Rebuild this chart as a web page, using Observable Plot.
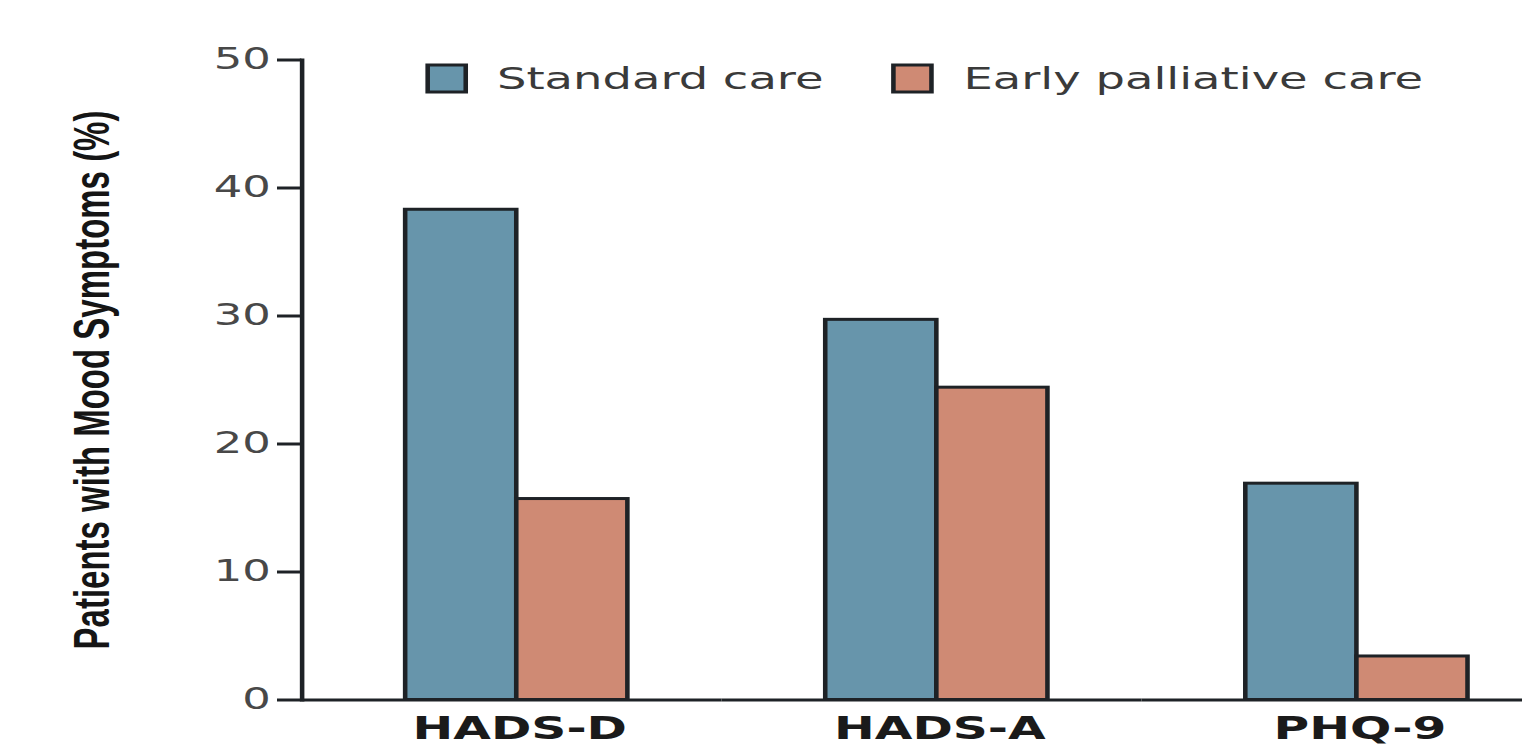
<!DOCTYPE html>
<html>
<head>
<meta charset="utf-8">
<script src="https://cdn.jsdelivr.net/npm/d3@7"></script>
<script src="https://cdn.jsdelivr.net/npm/@observablehq/plot@0.6"></script>
<style>
  html, body { margin: 0; padding: 0; background: #ffffff; overflow: hidden; }
  #wrap { position: relative; width: 1000px; height: 748px; transform: scaleX(1.522); transform-origin: 0 0; }
  #legend { position: absolute; left: 280.5px; top: 61px; }
  #legend > div { margin: 0 !important; min-height: 0 !important; }
  #legend span { display: inline-flex !important; align-items: center !important; margin-right: 46px !important;
                 font-family: "DejaVu Sans", sans-serif !important; font-size: 30.5px !important; color: #3a3a3a !important; line-height: normal; }
  #legend svg { margin-right: 21px !important; overflow: visible !important; }
  #legend rect { stroke: #1e2226; stroke-width: 3px; }
</style>
</head>
<body>
<div id="wrap">
  <div id="chart"></div>
  <div id="legend"></div>
</div>
<script>
const categories = ["HADS-D", "HADS-A", "PHQ-9"];
const seriesNames = ["Standard care", "Early palliative care"];
const standardCare = [38.3, 29.7, 16.9];
const earlyPalliative = [15.7, 24.4, 3.4];
const yTicks = [0, 10, 20, 30, 40, 50];
const seriesColors = ["#6795ab", "#cf8a74"];
const yLabel = "Patients with Mood Symptoms (%)";

const STROKE = "#1e2226";

const rows = categories.flatMap((c, i) => [
  {category: c, series: seriesNames[0], value: standardCare[i]},
  {category: c, series: seriesNames[1], value: earlyPalliative[i]}
]);

const chart = Plot.plot({
  width: 1000,
  height: 748,
  marginTop: 59.5,
  marginBottom: 48.5,
  marginLeft: 197.8,
  marginRight: 0,
  style: {fontFamily: "DejaVu Sans", background: "white"},
  fx: {domain: categories, range: [197.8, 1025.8], paddingInner: 0, paddingOuter: 0, label: null},
  x: {domain: seriesNames, paddingInner: 0, paddingOuter: 0.883, align: 0.528, axis: null},
  y: {domain: [0, 50]},
  color: {domain: seriesNames, range: seriesColors},
  marks: [
    Plot.barY(rows, {fx: "category", x: "series", y: "value", fill: "series", stroke: STROKE, strokeWidth: 3}),
    Plot.ruleY([0], {stroke: STROKE, strokeWidth: 3}),
    Plot.frame({anchor: "left", facetAnchor: "left", stroke: STROKE, strokeWidth: 3}),
    Plot.axisY({ticks: yTicks, tickSize: 16, tickPadding: 4.5, fontSize: 29.5, stroke: STROKE, strokeWidth: 3,
                fill: "#484848", label: null, tickFormat: d => String(d)}),
    Plot.axisY({ticks: [], tickSize: 0, label: yLabel, labelAnchor: "center", labelArrow: "none", labelOffset: 150,
                fontSize: 33, fontWeight: "bold", fontFamily: "Liberation Sans", fill: "#151515"}),
    Plot.axisFx({anchor: "bottom", tickSize: 0, tickPadding: 16.5, fontSize: 32, fontWeight: "bold",
                 fill: "#1a1a1a", label: null, dx: 5})
  ]
});
document.getElementById("chart").appendChild(chart);

const legend = chart.legend("color", {legend: "swatches", swatchWidth: 25, swatchHeight: 27});
document.getElementById("legend").appendChild(legend);
</script>
</body>
</html>
